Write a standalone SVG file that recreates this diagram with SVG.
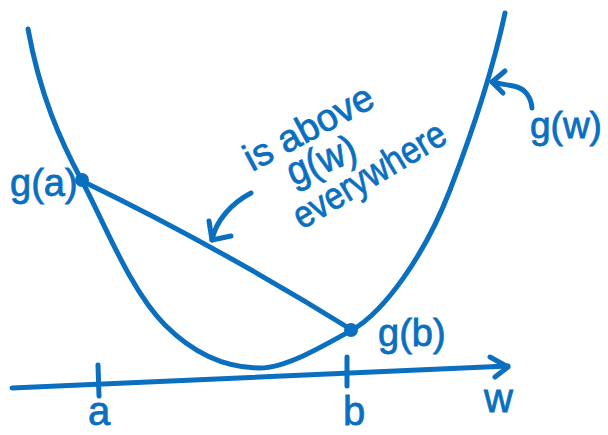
<svg xmlns="http://www.w3.org/2000/svg" width="608" height="435" viewBox="0 0 608 435">
<style>
.ln{fill:none;stroke:#0b6fc0;stroke-width:5;stroke-linecap:round;stroke-linejoin:round}
.tx{fill:#0b6fc0;stroke:#0b6fc0;stroke-width:0.8;font-family:"Liberation Sans",Arial,sans-serif}
.dot{fill:#0b6fc0}
</style>
<rect width="608" height="435" fill="#fff"/>
<g id="axis">
<path class="ln" d="M12,388 L508,366"/>
<path class="ln" d="M490,357 L508,367 L495,377"/>
<path class="ln" d="M98,365 L99,396"/>
<path class="ln" d="M347,357 L347,386"/>
<text class="tx" x="88" y="425" font-size="40">a</text>
<text class="tx" x="343" y="425" font-size="40">b</text>
<text class="tx" x="484" y="412" font-size="40">w</text>
</g>
<g id="curve-g">
<path class="ln" d="M28,29 C40,95 60,140 82,181 S130,290 165,325 S235,368 260,368 S320,348 352,330 S425,255 450,190 S495,60 505,13"/>
<text class="tx" x="530" y="138" font-size="37">g(w)</text>
</g>
<g id="chord">
<path class="ln" d="M82,181 Q215,245 352,330"/>
</g>
<g id="point-a">
<circle class="dot" cx="82" cy="180" r="7"/>
<text class="tx" x="10" y="196" font-size="38">g(a)</text>
</g>
<g id="point-b">
<circle class="dot" cx="351" cy="330" r="7"/>
<text class="tx" x="378" y="346" font-size="38">g(b)</text>
</g>
<g id="annotation">
<text class="tx" font-size="38" transform="translate(252,172) rotate(-28)">is above</text>
<text class="tx" font-size="40" transform="translate(293,186) rotate(-22)" textLength="72" lengthAdjust="spacingAndGlyphs">g(w)</text>
<text class="tx" font-size="38" transform="translate(302,230) rotate(-31)" textLength="172" lengthAdjust="spacingAndGlyphs">everywhere</text>
</g>
<g id="connectors">
<path class="ln" d="M251,193 C232,203 216,220 212,240"/>
<path class="ln" d="M209,221 L212,240 L231,236"/>
<path class="ln" d="M532,108 C531,96 524,89 517,87 C510,85 500,84 492,82"/>
<path class="ln" d="M505,71 L492,82 L503,93"/>
</g>
</svg>
